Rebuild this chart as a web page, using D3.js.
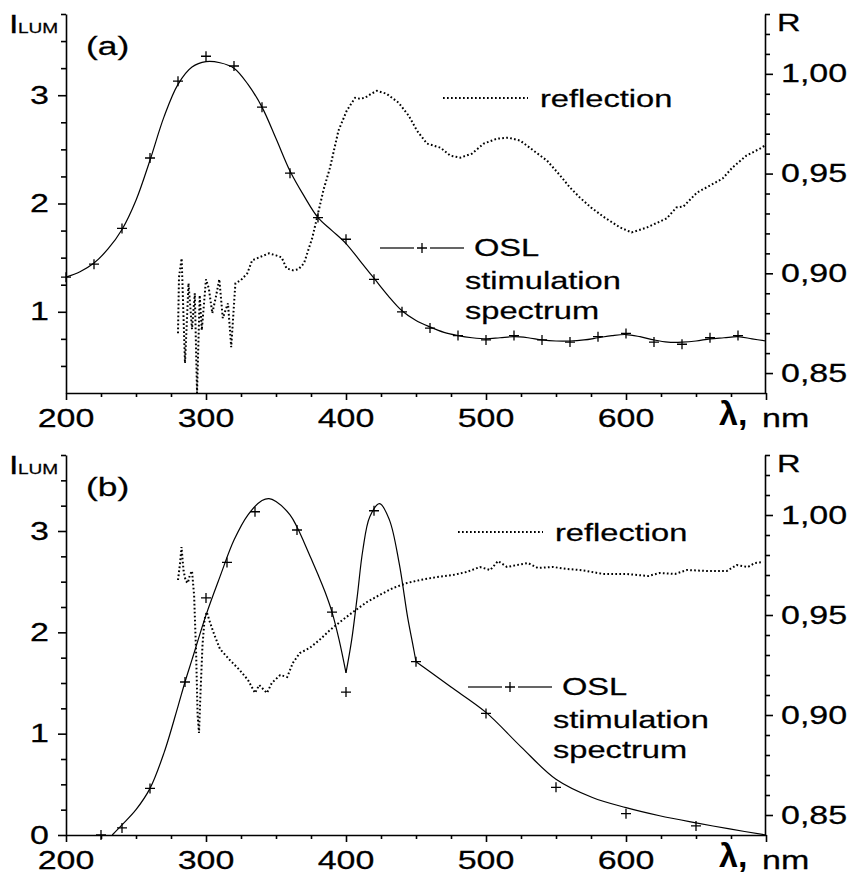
<!DOCTYPE html>
<html>
<head>
<meta charset="utf-8">
<script src="https://cdn.jsdelivr.net/npm/d3@7"></script>
<style>
  body { margin: 0; background: #fff; }
  text { font-family: "Liberation Sans", Arial, sans-serif; fill: #000; }
</style>
</head>
<body>
<svg id="chart" width="852" height="873"></svg>
<script>
// wavelength ticks (nm)
const xMajor = [200, 300, 400, 500, 600, 700];
const xLabels = [200, 300, 400, 500, 600];
const rMajor = [0.85, 0.90, 0.95, 1.00];

// (a) OSL stimulation spectrum: measured points and fitted curve
const oslMarksA = [[200,1.32],[220,1.44],[240,1.77],[260,2.42],[280,3.13],[300,3.36],[320,3.27],
  [340,2.89],[360,2.28],[380,1.87],[400,1.67],[420,1.30],[440,1.00],[460,0.85],[480,0.78],
  [500,0.74],[520,0.78],[540,0.74],[560,0.72],[580,0.77],[600,0.80],[620,0.72],[640,0.70],
  [660,0.76],[680,0.78]];
const oslCurveA = [[200,1.32],[210,1.37],[220,1.45],[230,1.58],[240,1.76],[250,2.03],[260,2.40],
  [270,2.80],[280,3.10],[290,3.26],[300,3.31],[310,3.30],[320,3.25],[330,3.10],[340,2.89],
  [350,2.60],[360,2.30],[370,2.07],[380,1.87],[390,1.75],[400,1.63],[410,1.47],[420,1.31],
  [430,1.15],[440,1.01],[450,0.92],[460,0.86],[470,0.81],[480,0.78],[490,0.76],[500,0.75],
  [510,0.76],[520,0.77],[530,0.76],[540,0.74],[550,0.73],[560,0.73],[570,0.74],[580,0.76],
  [590,0.78],[600,0.79],[610,0.77],[620,0.74],[630,0.72],[640,0.72],[650,0.73],[660,0.75],
  [670,0.76],[680,0.77],[690,0.75],[700,0.73]];
// (a) reflection
const reflA = [[280,0.870],[280.7,0.898],[282.6,0.9075],[285,0.855],[287.5,0.895],[290,0.872],
  [292,0.890],[293.6,0.840],[295.5,0.889],[297,0.8715],[300,0.897],[302,0.8925],[304.5,0.880],
  [307,0.888],[309.5,0.897],[312,0.8775],[315.7,0.885],[318,0.863],[321,0.895],[324.8,0.8965],
  [329.5,0.900],[333,0.9065],[338,0.908],[345,0.910],[350,0.909],[354,0.908],[357.5,0.9025],
  [362,0.9015],[366,0.902],[370,0.905],[376,0.918],[380,0.930],[384,0.942],[388.6,0.953],
  [394.6,0.9715],[400.5,0.9815],[406.5,0.988],[410,0.9875],[413.6,0.988],[418,0.990],
  [422,0.9915],[429,0.990],[437.6,0.9855],[444.8,0.979],[450.7,0.9715],[457.9,0.965],
  [467.4,0.963],[474.5,0.959],[481.7,0.958],[490,0.960],[498.3,0.965],[507.9,0.9675],
  [516,0.968],[524.5,0.9665],[534,0.9615],[543.6,0.9565],[553,0.949],[560,0.943],[567,0.938],
  [575,0.933],[583.6,0.9285],[595.7,0.923],[604,0.9205],[615,0.923],[629,0.9275],[636,0.933],
  [641,0.9335],[650.7,0.9405],[660,0.944],[669,0.9475],[676,0.953],[686,0.959],[695.7,0.9625],
  [699,0.964]];

// (b) OSL stimulation spectrum
const oslMarksB = [[225,0.00],[240,0.07],[260,0.46],[285,1.51],[300,2.34],[315,2.69],[335,3.19],
  [365,3.01],[390,2.20],[400,1.41],[420,3.20],[450,1.71],[500,1.20],[550,0.47],[600,0.21],[650,0.09]];
const oslCurveB1 = [[233,0.00],[240,0.10],[250,0.25],[260,0.46],[270,0.81],[280,1.27],[285,1.51],
  [290,1.73],[300,2.17],[310,2.55],[320,2.91],[330,3.16],[340,3.30],[345,3.32],[350,3.29],
  [360,3.16],[365,3.04],[370,2.89],[375,2.73],[380,2.57],[385,2.40],[390,2.20],[395,1.93],[400,1.60]];
const oslCurveB2 = [[400,1.60],[404,1.92],[408,2.35],[412,2.81],[417,3.14],[424,3.27],[431,3.11],
  [438,2.68],[444,2.15],[448,1.86],[450,1.71]];
const oslCurveB3 = [[450,1.71],[460,1.61],[475,1.46],[500,1.21],[525,0.87],[550,0.55],[576,0.37],
  [600,0.27],[624,0.19],[650,0.12],[674,0.06],[700,0.00]];
// (b) reflection
const reflB = [[280,0.9675],[281.5,0.976],[282.5,0.984],[284,0.972],[285.5,0.967],[287,0.966],
  [288.5,0.970],[290,0.972],[291.5,0.960],[293,0.930],[294,0.900],[295,0.891],[296,0.910],
  [297.5,0.935],[299,0.948],[300.5,0.9515],[303,0.946],[306,0.940],[310,0.933],[317,0.9275],
  [324,0.9225],[330,0.9175],[335,0.911],[338,0.915],[343.5,0.911],[347,0.916],[353,0.920],
  [358,0.919],[362,0.926],[367,0.931],[374,0.9335],[381,0.9375],[388.6,0.9425],[395.7,0.9465],
  [405,0.9515],[415,0.9565],[424,0.960],[433.6,0.9635],[443.6,0.966],[453,0.9675],[465,0.969],
  [476.4,0.970],[486,0.9715],[495.7,0.974],[503,0.9725],[508.6,0.977],[515,0.974],[522,0.975],
  [530,0.976],[537,0.9735],[548,0.974],[558,0.973],[567,0.9725],[572,0.972],[583.6,0.9705],
  [600.7,0.9705],[616,0.9695],[624,0.971],[635,0.9705],[643.6,0.9725],[658,0.972],[672,0.972],
  [679,0.975],[687,0.974],[692,0.976],[698,0.9765]];

const SX = 1.36;   // the original font is wide
const FS = 24;

const svg = d3.select('#chart');
const x = d3.scaleLinear().domain([200, 700]).range([66, 766]);

function stext(g, px, py, str, size, anchor) {
  return g.append('text')
    .attr('transform', `translate(${px},${py}) scale(${SX},1)`)
    .attr('font-size', size)
    .attr('text-anchor', anchor || 'start')
    .attr('stroke', '#000').attr('stroke-width', 0.25)
    .text(str);
}

function plus(g, pts, xs, ys) {
  g.selectAll(null).data(pts).enter().append('path')
    .attr('d', d => `M${xs(d[0]) - 5},${ys(d[1])}h10M${xs(d[0])},${ys(d[1]) - 5}v10`)
    .attr('stroke', '#000').attr('stroke-width', 1.3).attr('fill', 'none');
}

function panel(p) {
  const g = svg.append('g');
  const yI = d3.scaleLinear().domain(p.yDom).range([p.bottom, p.top]);
  const yR = d3.scaleLinear().domain([0.84, 1.03]).range([p.bottom, p.top]);

  // axes: major + minor ticks
  const xMinor = d3.range(200, 701, 25).filter(v => v % 100);
  g.append('g').attr('transform', `translate(0,${p.bottom})`)
    .call(d3.axisBottom(x).tickValues(xMajor).tickSize(7).tickSizeOuter(0).tickFormat(''));
  g.append('g').attr('transform', `translate(0,${p.bottom})`)
    .call(d3.axisBottom(x).tickValues(xMinor).tickSize(4).tickFormat(''))
    .call(a => a.select('.domain').remove());

  const iMinor = d3.range(0.25, 3.76, 0.25).filter(v => v > p.yDom[0] && Math.abs(v - Math.round(v)) > 0.01);
  g.append('g').attr('transform', `translate(66,0)`)
    .call(d3.axisLeft(yI).tickValues(p.iMajor).tickSize(8).tickSizeOuter(0).tickFormat(''));
  g.append('g').attr('transform', `translate(66,0)`)
    .call(d3.axisLeft(yI).tickValues(iMinor).tickSize(5).tickFormat(''))
    .call(a => a.select('.domain').remove());

  const rMinor = d3.range(85, 104).map(v => v / 100).filter(v => Math.round(v * 100) % 5);
  g.append('g').attr('transform', `translate(765,0)`)
    .call(d3.axisRight(yR).tickValues(rMajor).tickSize(8).tickSizeOuter(0).tickFormat(''));
  g.append('g').attr('transform', `translate(765,0)`)
    .call(d3.axisRight(yR).tickValues(rMinor).tickSize(5).tickFormat(''))
    .call(a => a.select('.domain').remove());

  g.selectAll('.domain, .tick line').attr('stroke', '#000').attr('stroke-width', 1.6);

  // tick labels
  xLabels.forEach(v => stext(g, x(v), p.bottom + 34, v, FS + 1, 'middle'));
  p.iMajor.forEach(v => stext(g, 49, yI(v) + 8.5, v, FS + 1, 'end'));
  rMajor.forEach(v => stext(g, 781, yR(v) + 8.5, d3.format('.2f')(v).replace('.', ','), FS + 1));

  // axis titles
  stext(g, 9, p.top + 19, 'I', FS + 1);
  stext(g, 18, p.top + 19, 'LUM', 14);
  stext(g, 777, p.top + 17, 'R', FS);
  stext(g, 86, p.top + 41, p.tag, FS + 2);
  g.append('text').attr('x', 719).attr('y', p.bottom + 32)
    .attr('font-family', '"Liberation Serif", serif').attr('font-weight', 'bold')
    .attr('font-size', 34).text('λ,');
  stext(g, 762, p.bottom + 34, 'nm', FS + 1);

  // series
  const lineI = d3.line().x(d => x(d[0])).y(d => yI(d[1])).curve(d3.curveCatmullRom);
  p.curves.forEach(c => g.append('path').datum(c).attr('d', lineI)
    .attr('fill', 'none').attr('stroke', '#000').attr('stroke-width', 1.2));
  plus(g, p.marks, x, yI);

  const lineR = d3.line().x(d => x(d[0])).y(d => yR(d[1]));
  g.append('path').datum(p.refl).attr('d', lineR)
    .attr('fill', 'none').attr('stroke', '#000').attr('stroke-width', 2)
    .attr('stroke-dasharray', '1.7,2.3');

  // legend
  const L = p.leg;
  g.append('line').attr('x1', L.rx).attr('x2', L.rx + 85).attr('y1', L.ry).attr('y2', L.ry)
    .attr('stroke', '#000').attr('stroke-width', 2).attr('stroke-dasharray', '1.7,2.3');
  stext(g, L.rx + 97, L.ry + 9, 'reflection', FS);

  g.append('path')
    .attr('d', `M${L.ox},${L.oy}h34M${L.ox + 50},${L.oy}h34`)
    .attr('stroke', '#333').attr('stroke-width', 1.3);
  plus(g, [[L.ox + 42, L.oy]], v => v, v => v);
  stext(g, L.ox + 94, L.oy + 8, 'OSL', FS);
  stext(g, L.ox + 85, L.oy + 41, 'stimulation', FS);
  stext(g, L.ox + 85, L.oy + 71, 'spectrum', FS);
}

panel({
  tag: '(a)', top: 14, bottom: 393, yDom: [0.25, 3.75], iMajor: [1, 2, 3],
  curves: [oslCurveA], marks: oslMarksA, refl: reflA,
  leg: { rx: 443, ry: 98, ox: 380, oy: 248 }
});
panel({
  tag: '(b)', top: 455, bottom: 835, yDom: [0, 3.75], iMajor: [0, 1, 2, 3],
  curves: [oslCurveB1, oslCurveB2, oslCurveB3], marks: oslMarksB, refl: reflB,
  leg: { rx: 458, ry: 532, ox: 468, oy: 687 }
});
</script>
</body>
</html>
